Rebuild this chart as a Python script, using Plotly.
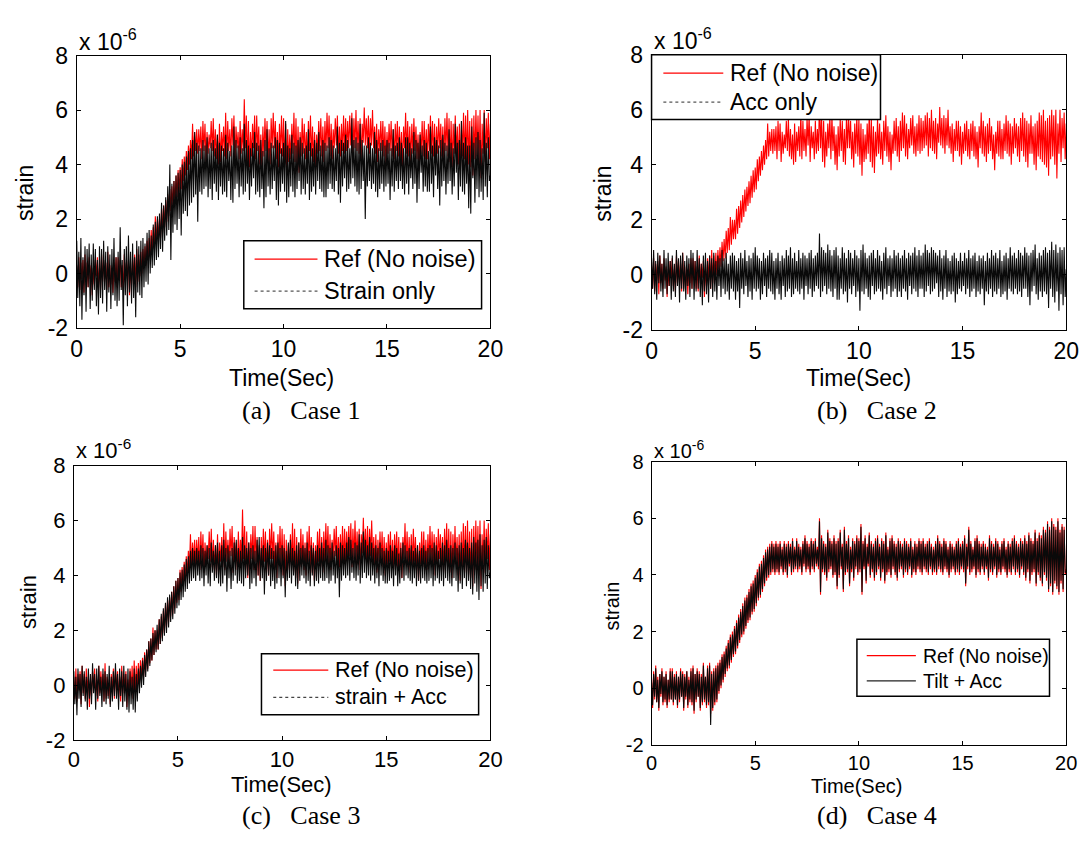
import plotly.graph_objects as go

# ---------------- data (micro-strain, read every 0.05 s from 0 to 20 s; one row = 1 s) ----------------
time_s = [round(i * 0.05, 2) for i in range(401)]

ref_no_noise = [
    0.3, -0.5, 0.6, -0.6, 0.4, -0.2, 0.5, -0.7, 0.7, -0.3, 0.4, -0.5, 0.6, -0.2, 0.3, -0.8, 0.2, -0.4, 0.5, -0.1,
    0.6, -0.4, 0.2, -0.6, 0.7, -0.3, 0.5, -0.2, 0.4, -0.6, 0.8, -0.5, 0.3, -0.4, 0.2, -0.7, 0.4, -0.3, 0.6, -0.5,
    0.6, -0.2, 0.5, -0.5, 0.3, -0.6, 0.7, -0.3, 0.4, -0.1, 0.5, -0.8, 0.2, -0.4, 0.6, -0.2, 0.7, -0.5, 0.9, -0.3,
    0.7, -0.1, 0.8, 0.0, 0.9, 0.2, 1.0, 0.3, 1.2, 0.5, 1.3, 0.6, 1.6, 0.8, 1.7, 0.9, 2.1, 1.1, 2.0, 1.3,
    2.0, 1.3, 2.4, 1.5, 2.5, 1.7, 2.7, 1.9, 2.9, 2.1, 3.1, 2.3, 3.2, 2.5, 3.4, 2.6, 3.6, 2.8, 3.8, 3.0,
    3.9, 3.1, 4.2, 3.4, 4.3, 3.6, 4.5, 3.8, 4.7, 4.0, 4.9, 4.2, 5.5, 4.3, 5.2, 4.5, 5.3, 4.4, 5.3, 4.5,
    5.4, 4.2, 5.6, 4.5, 5.5, 4.1, 5.2, 4.4, 5.1, 4.6, 5.6, 4.5, 5.7, 4.3, 5.3, 4.2, 5.1, 4.0, 5.5, 4.1,
    5.2, 4.5, 5.4, 4.3, 5.9, 4.2, 5.6, 4.5, 5.3, 4.3, 5.7, 4.7, 5.8, 4.1, 5.4, 4.6, 5.2, 4.2, 5.6, 4.4,
    5.3, 4.5, 6.4, 4.6, 5.8, 4.1, 5.6, 3.9, 5.2, 4.3, 5.5, 4.6, 5.8, 4.2, 5.8, 4.5, 5.4, 4.0, 5.1, 3.8,
    5.4, 4.3, 5.7, 4.5, 5.6, 4.1, 5.3, 4.0, 5.7, 4.6, 5.9, 4.6, 5.6, 4.2, 5.2, 3.9, 5.5, 4.4, 5.8, 4.3,
    5.7, 4.0, 5.5, 3.6, 5.3, 4.1, 5.1, 4.2, 5.5, 4.4, 5.9, 4.1, 5.7, 3.9, 5.4, 3.7, 5.2, 4.3, 5.7, 4.4,
    5.5, 4.2, 5.2, 4.0, 5.6, 4.5, 5.8, 4.3, 5.4, 4.1, 5.2, 3.8, 5.1, 4.4, 5.6, 4.5, 5.7, 4.3, 5.4, 4.1,
    5.6, 4.5, 5.9, 4.6, 5.8, 4.3, 5.5, 4.2, 5.3, 4.6, 5.7, 4.7, 5.8, 4.4, 5.4, 4.3, 5.5, 4.5, 5.8, 4.4,
    5.7, 4.5, 5.6, 4.6, 5.8, 4.7, 5.9, 4.3, 5.7, 4.6, 6.0, 4.5, 5.6, 4.4, 5.7, 4.2, 5.5, 4.8, 6.1, 4.7,
    5.7, 4.6, 5.8, 4.4, 5.7, 4.7, 6.0, 4.6, 5.4, 4.4, 5.5, 4.1, 5.3, 4.5, 5.6, 4.5, 5.6, 4.3, 5.4, 4.0,
    5.2, 4.4, 5.5, 4.5, 5.6, 4.3, 5.3, 4.2, 5.5, 4.5, 5.6, 4.3, 5.4, 4.2, 5.2, 3.9, 5.4, 4.6, 5.9, 4.4,
    5.6, 4.3, 5.4, 4.1, 5.5, 4.4, 5.7, 4.5, 5.4, 4.2, 5.1, 3.8, 5.2, 4.4, 5.6, 4.3, 5.6, 4.2, 5.3, 4.2,
    5.5, 4.5, 5.8, 4.4, 5.6, 4.3, 5.5, 4.0, 5.4, 4.4, 5.7, 4.6, 5.5, 4.3, 5.4, 4.1, 5.7, 4.5, 5.9, 4.3,
    5.7, 4.1, 5.6, 3.9, 5.5, 4.4, 5.8, 4.4, 5.4, 4.0, 5.5, 3.8, 5.6, 4.3, 5.9, 4.2, 5.8, 4.1, 6.0, 4.0,
    5.6, 3.9, 5.7, 3.6, 5.8, 4.2, 6.0, 4.3, 5.8, 4.0, 6.0, 3.5, 5.5, 4.4, 6.0, 4.1, 5.7, 4.6, 5.9, 4.2,
    5.5,
]

strain_only = [
    1.2, -0.9, 0.8, -1.2, 1.3, -1.7, 0.6, -0.8, 1.0, -1.4, 0.9, -0.5, 1.1, -1.3, 0.7, -1.0, 1.1, -0.6, 0.9, -1.2,
    0.5, -1.5, 1.0, -0.9, 0.9, -1.1, 1.2, -0.6, 0.8, -1.4, 1.0, -0.7, 0.7, -1.3, 0.9, -0.8, 1.3, -1.0, 0.6, -1.2,
    0.8, -1.0, 1.7, -0.6, 0.5, -1.9, 0.9, -0.8, 1.0, -1.2, 1.4, -0.7, 0.8, -1.1, 1.1, -0.9, 0.6, -1.6, 1.2, -0.7,
    1.0, -0.8, 1.2, -0.9, 1.3, -0.5, 1.1, -0.3, 1.5, -0.4, 1.6, 0.0, 1.4, 0.2, 1.8, 0.3, 1.9, 0.5, 2.1, 0.6,
    2.2, 0.9, 2.6, 0.8, 2.5, 1.2, 2.8, 1.4, 3.2, 1.6, 4.0, 0.5, 3.3, 1.5, 3.4, 1.8, 3.6, 1.6, 3.7, 2.0,
    3.8, 1.4, 4.0, 2.2, 4.1, 2.3, 4.3, 2.1, 4.5, 2.5, 4.6, 2.6, 4.9, 2.8, 5.2, 2.9, 4.8, 1.9, 4.7, 3.0,
    4.6, 2.9, 4.9, 3.1, 4.7, 3.2, 5.0, 2.8, 4.6, 3.1, 4.8, 2.7, 4.9, 3.3, 4.6, 3.0, 5.1, 2.7, 4.8, 3.2,
    4.7, 2.9, 4.6, 3.0, 5.1, 2.8, 4.8, 3.4, 4.5, 2.7, 4.7, 2.6, 5.4, 3.1, 4.9, 3.3, 4.7, 2.8, 5.0, 3.2,
    4.6, 2.9, 5.5, 3.0, 4.9, 3.3, 4.7, 2.7, 4.6, 3.2, 4.8, 3.5, 5.2, 2.9, 4.8, 3.0, 4.7, 2.8, 4.9, 3.1,
    4.5, 2.4, 4.9, 2.8, 5.3, 3.2, 4.6, 2.9, 4.8, 3.1, 4.7, 3.4, 5.0, 2.7, 4.9, 2.5, 4.8, 3.0, 4.6, 3.3,
    4.8, 3.0, 5.6, 2.6, 4.7, 2.8, 4.6, 3.2, 5.1, 3.0, 4.8, 2.8, 4.7, 3.1, 4.9, 3.4, 5.0, 2.9, 4.8, 3.1,
    4.6, 2.9, 4.7, 3.3, 5.3, 2.7, 4.8, 3.0, 4.6, 3.2, 4.9, 2.9, 4.8, 3.4, 5.2, 3.1, 4.7, 3.0, 4.9, 2.8,
    4.8, 2.8, 4.7, 3.1, 5.0, 3.3, 4.9, 3.1, 4.7, 3.0, 4.6, 3.4, 5.4, 2.9, 4.8, 2.6, 4.9, 3.2, 4.8, 3.5,
    5.1, 3.0, 4.9, 3.1, 4.6, 3.3, 5.7, 3.5, 4.9, 3.2, 5.0, 3.0, 4.8, 2.9, 5.5, 3.1, 4.9, 3.4, 4.7, 2.0,
    4.7, 3.2, 5.0, 3.4, 4.8, 3.1, 4.6, 3.3, 5.2, 3.0, 4.9, 2.8, 4.6, 3.1, 4.8, 3.3, 4.9, 3.0, 4.7, 3.2,
    4.9, 3.3, 4.8, 2.7, 4.6, 3.2, 5.3, 3.0, 4.7, 3.4, 4.8, 3.1, 5.0, 3.4, 4.8, 3.1, 4.6, 2.9, 5.0, 3.3,
    5.0, 2.9, 4.8, 3.5, 4.6, 3.1, 5.2, 3.3, 4.9, 2.6, 4.8, 3.1, 5.1, 3.7, 4.7, 3.0, 4.9, 3.2, 4.8, 3.0,
    4.5, 3.0, 5.4, 3.3, 4.7, 2.8, 5.0, 3.6, 4.9, 3.1, 4.7, 2.5, 4.9, 3.2, 5.1, 3.4, 4.8, 2.9, 4.7, 3.3,
    5.3, 3.4, 4.8, 2.9, 4.6, 3.2, 5.5, 3.7, 4.8, 2.7, 4.9, 3.2, 5.6, 3.0, 4.8, 2.9, 5.0, 3.3, 4.7, 2.4,
    4.7, 2.2, 5.4, 3.5, 4.8, 2.6, 5.0, 3.1, 5.2, 2.8, 4.9, 3.0, 4.6, 2.7, 5.9, 3.2, 4.8, 2.8, 5.0, 3.4,
    3.6,
]

acc_only = [
    0.6, -0.5, 0.9, -0.7, 0.5, -0.9, 0.8, -0.3, 0.7, -0.6, 0.4, -0.8, 0.9, -0.5, 0.6, -0.7, 0.8, -0.4, 0.5, -0.9,
    0.7, -0.6, 0.4, -0.8, 0.9, -0.4, 0.6, -1.0, 0.7, -0.5, 0.8, -0.6, 0.5, -0.9, 0.7, -0.4, 0.6, -0.8, 0.9, -0.5,
    0.8, -0.9, 0.5, -0.6, 0.9, -0.5, 0.6, -0.8, 0.4, -1.1, 0.7, -0.6, 0.8, -0.7, 0.5, -1.0, 0.7, -0.5, 0.6, -0.8,
    0.8, -0.6, 0.5, -0.9, 0.7, -0.4, 0.6, -0.8, 0.9, -0.5, 0.6, -0.7, 0.8, -0.6, 0.4, -0.9, 0.7, -0.5, 0.8, -0.6,
    0.7, -0.9, 0.5, -0.6, 0.6, -1.2, 0.8, -0.5, 0.6, -0.7, 0.9, -0.4, 0.5, -0.8, 0.7, -0.6, 0.6, -0.9, 0.8, -0.5,
    1.0, -0.6, 0.7, -0.5, 0.6, -0.9, 0.5, -0.7, 0.8, -0.4, 0.6, -0.8, 0.7, -0.5, 0.9, -0.6, 0.8, -0.7, 0.5, -0.9,
    0.6, -0.5, 0.8, -0.7, 0.5, -0.9, 0.7, -0.4, 0.6, -0.8, 0.9, -0.6, 0.7, -0.5, 1.0, -0.8, 0.6, -0.7, 0.8, -0.5,
    0.5, -0.6, 0.9, -0.7, 0.6, -0.5, 0.8, -0.9, 0.7, -0.4, 0.6, -0.7, 0.8, -0.5, 0.9, -0.8, 0.6, -0.6, 0.7, -0.4,
    0.8, -0.5, 1.5, -0.8, 1.0, -0.6, 0.9, -0.4, 0.8, -0.7, 1.1, -0.5, 0.9, -0.6, 0.7, -0.8, 0.9, -0.5, 1.0, -0.9,
    0.7, -0.9, 0.6, -0.5, 1.0, -0.7, 0.8, -0.6, 0.6, -1.0, 0.9, -0.5, 0.8, -0.7, 0.6, -0.4, 0.9, -0.8, 0.7, -0.6,
    0.6, -1.3, 0.9, -0.6, 1.1, -0.7, 0.8, -0.5, 0.6, -0.8, 0.7, -0.9, 0.8, -0.4, 0.9, -0.7, 0.6, -0.6, 0.9, -0.5,
    0.7, -0.6, 0.5, -0.9, 0.8, -0.5, 1.0, -0.7, 0.6, -0.4, 0.7, -0.8, 0.6, -0.6, 0.9, -0.5, 0.7, -0.8, 0.8, -0.6,
    0.6, -0.8, 0.7, -0.5, 0.9, -0.6, 0.6, -0.9, 0.8, -0.4, 0.7, -0.7, 0.8, -0.5, 1.0, -0.6, 0.7, -0.8, 0.9, -0.5,
    0.7, -0.5, 0.8, -0.8, 1.1, -0.6, 0.9, -0.4, 0.8, -0.7, 1.0, -0.6, 0.9, -0.5, 0.8, -0.3, 0.7, -0.8, 0.9, -0.6,
    0.6, -0.9, 0.7, -0.5, 0.9, -0.8, 0.6, -0.6, 0.5, -0.7, 0.7, -0.6, 0.8, -1.0, 0.6, -0.7, 0.5, -0.5, 0.8, -0.6,
    0.5, -0.4, 0.8, -0.7, 0.6, -0.5, 0.9, -0.8, 0.6, -0.6, 0.7, -0.5, 0.8, -0.8, 0.5, -0.6, 0.7, -0.7, 0.6, -0.5,
    0.7, -1.1, 0.5, -0.6, 0.8, -0.7, 0.6, -0.5, 0.9, -0.8, 0.7, -0.6, 0.8, -0.7, 0.6, -0.5, 0.9, -0.8, 0.5, -0.7,
    0.7, -0.6, 0.8, -0.9, 0.6, -0.5, 1.0, -0.6, 0.7, -0.7, 0.8, -0.5, 0.6, -0.7, 0.9, -0.6, 0.8, -0.8, 0.7, -0.5,
    1.0, -0.5, 0.8, -0.8, 0.7, -1.1, 0.8, -0.6, 0.9, -0.4, 1.1, -0.7, 0.6, -0.9, 0.8, -0.6, 0.7, -0.8, 0.9, -0.6,
    1.0, -0.7, 0.8, -1.2, 0.9, -0.5, 1.2, -0.8, 0.9, -1.0, 1.1, -0.6, 0.8, -1.3, 1.0, -0.7, 0.9, -1.1, 1.0, -0.8,
    0.2,
]

strain_plus_acc = [
    0.5, -0.7, 0.3, -1.1, 0.6, -0.5, 0.4, -0.8, 0.7, -0.4, 0.5, -0.6, 0.3, -0.9, 0.6, -0.5, 0.4, -0.7, 0.8, -0.3,
    0.4, -0.9, 0.6, -0.5, 0.7, -0.4, 0.3, -0.8, 0.6, -0.6, 0.5, -0.7, 0.4, -0.5, 0.7, -0.8, 0.3, -0.6, 0.5, -0.4,
    0.8, -0.5, 0.4, -0.9, 0.6, -0.4, 0.5, -0.8, 0.7, -0.6, 0.4, -0.9, 0.6, -1.0, 0.5, -0.7, 0.3, -0.9, 0.6, -1.0,
    0.4, -0.6, 0.6, -0.3, 0.7, -0.1, 0.9, 0.0, 1.1, 0.3, 1.3, 0.5, 1.6, 0.7, 1.7, 0.9, 1.9, 1.1, 2.0, 1.2,
    2.2, 1.3, 2.4, 1.5, 2.6, 1.6, 2.8, 1.8, 3.0, 1.9, 3.2, 2.1, 3.3, 2.3, 3.4, 2.4, 3.6, 2.6, 3.8, 2.8,
    3.9, 2.9, 4.1, 3.1, 4.2, 3.2, 4.4, 3.4, 4.6, 3.5, 4.7, 3.7, 4.9, 3.8, 5.0, 3.9, 4.9, 3.8, 5.0, 4.0,
    4.9, 3.8, 5.1, 3.9, 5.0, 3.6, 4.9, 4.0, 5.1, 3.7, 5.0, 3.6, 5.2, 4.1, 4.9, 3.8, 5.1, 3.9, 5.2, 3.7,
    4.9, 3.6, 5.1, 3.7, 5.3, 4.0, 5.0, 3.4, 5.1, 3.9, 4.9, 3.5, 5.0, 3.8, 5.2, 4.0, 5.3, 3.7, 5.0, 3.8,
    4.9, 3.7, 5.4, 3.6, 5.1, 3.9, 5.0, 4.0, 5.2, 3.5, 5.0, 3.7, 5.1, 3.9, 4.9, 3.6, 5.3, 4.0, 5.4, 3.8,
    5.0, 3.9, 5.1, 3.3, 5.0, 3.8, 5.2, 4.0, 5.1, 3.6, 5.0, 3.8, 4.9, 3.5, 5.1, 3.7, 5.2, 3.9, 5.0, 3.6,
    5.1, 3.9, 5.0, 3.2, 4.9, 3.8, 5.2, 3.9, 5.3, 3.7, 5.0, 4.0, 4.9, 3.6, 5.1, 3.5, 5.2, 3.8, 5.0, 4.0,
    5.1, 3.9, 5.0, 3.7, 5.2, 3.8, 4.9, 3.6, 5.1, 4.0, 5.0, 3.6, 4.9, 3.8, 5.1, 3.7, 5.0, 3.9, 5.2, 3.8,
    5.0, 3.8, 5.3, 3.9, 5.1, 3.7, 5.0, 3.8, 5.2, 4.0, 4.9, 3.7, 5.1, 3.9, 5.0, 3.2, 5.2, 3.8, 5.1, 4.0,
    5.0, 3.9, 5.2, 4.0, 5.4, 3.8, 5.3, 4.1, 5.0, 3.9, 5.2, 3.8, 5.1, 4.0, 5.5, 3.7, 5.2, 3.9, 5.6, 4.1,
    5.3, 3.9, 5.1, 4.0, 5.4, 3.8, 5.2, 4.0, 5.0, 3.7, 5.1, 3.9, 5.0, 3.6, 5.2, 4.0, 5.0, 3.8, 4.9, 3.7,
    5.0, 3.7, 4.9, 3.8, 5.1, 3.9, 4.9, 3.6, 5.1, 4.0, 5.0, 3.6, 4.8, 3.7, 5.0, 3.9, 5.2, 3.8, 5.1, 4.0,
    4.9, 3.9, 5.0, 3.8, 5.1, 3.7, 4.9, 3.9, 5.0, 3.6, 5.1, 3.8, 4.9, 3.7, 5.0, 3.9, 5.1, 3.8, 4.9, 3.7,
    5.0, 3.8, 5.1, 3.9, 5.0, 3.6, 5.2, 3.8, 5.1, 3.9, 4.9, 3.7, 5.0, 3.8, 5.2, 3.6, 5.1, 3.9, 5.3, 3.8,
    5.0, 3.7, 5.1, 3.6, 5.0, 3.9, 5.2, 3.8, 5.0, 3.4, 5.1, 3.7, 5.2, 3.5, 5.0, 3.9, 5.3, 3.6, 5.2, 3.8,
    5.0, 3.5, 5.2, 3.3, 5.4, 3.7, 5.2, 3.4, 5.3, 3.1, 5.5, 3.6, 5.1, 3.4, 5.3, 3.7, 5.4, 3.5, 5.1, 3.9,
    4.1,
]

ref_no_noise_case4 = [
    0.3, -0.7, 0.6, -0.4, 0.8, -0.5, 0.4, -0.8, 0.5, -0.3, 0.7, -0.6, 0.4, -0.5, 0.6, -0.7, 0.3, -0.5, 0.7, -0.4,
    0.7, -0.6, 0.5, -0.4, 0.6, -0.7, 0.4, -0.5, 0.7, -0.3, 0.6, -0.8, 0.5, -0.4, 0.6, -0.7, 0.4, -0.5, 0.7, -0.6,
    0.8, -0.9, 0.5, -0.5, 0.7, -0.3, 0.6, -0.8, 0.5, -0.6, 0.9, -0.5, 0.4, -0.7, 0.8, -0.6, 0.9, -0.9, 0.6, -0.8,
    0.7, -0.6, 0.8, -0.5, 0.9, -0.2, 1.0, 0.0, 1.2, 0.2, 1.3, 0.4, 1.5, 0.6, 1.7, 0.7, 1.9, 0.9, 2.0, 1.1,
    2.2, 1.2, 2.4, 1.4, 2.6, 1.6, 2.8, 1.8, 3.0, 1.9, 3.2, 2.1, 3.3, 2.3, 3.5, 2.4, 3.7, 2.6, 3.8, 2.7,
    4.0, 2.9, 4.2, 3.1, 4.4, 3.2, 4.5, 3.4, 4.7, 3.6, 4.9, 3.8, 5.0, 3.9, 5.1, 4.0, 5.2, 4.1, 5.1, 4.0,
    5.2, 4.1, 5.1, 4.0, 5.2, 4.2, 5.0, 4.0, 5.2, 4.1, 5.1, 3.9, 5.2, 4.3, 5.1, 4.0, 5.3, 4.1, 5.0, 4.2,
    5.3, 4.1, 5.1, 4.2, 5.0, 4.0, 5.2, 4.3, 5.4, 4.1, 5.2, 4.2, 5.1, 4.0, 5.3, 4.2, 5.2, 4.1, 5.3, 4.3,
    5.0, 4.2, 6.0, 3.3, 5.4, 4.1, 5.2, 4.0, 5.1, 3.8, 5.6, 4.1, 5.3, 4.2, 5.2, 3.9, 5.4, 4.0, 5.2, 3.5,
    5.3, 3.9, 5.6, 4.2, 5.1, 3.4, 5.7, 4.0, 5.2, 4.1, 5.4, 3.6, 5.0, 4.1, 5.3, 3.8, 5.2, 4.2, 5.4, 4.0,
    5.3, 4.1, 5.8, 3.3, 5.2, 4.2, 5.4, 3.7, 5.1, 4.3, 5.5, 3.9, 5.2, 4.1, 5.1, 3.8, 5.3, 4.0, 5.4, 4.2,
    5.1, 3.8, 5.3, 4.1, 5.2, 3.7, 5.5, 4.0, 5.0, 4.1, 5.3, 3.9, 5.4, 4.2, 5.2, 4.0, 5.1, 3.8, 5.3, 4.1,
    5.2, 4.2, 5.1, 3.9, 5.3, 4.1, 5.2, 4.0, 5.1, 4.2, 5.3, 3.9, 5.0, 4.1, 5.2, 4.0, 5.1, 4.2, 5.3, 4.1,
    5.2, 4.0, 5.3, 4.2, 5.1, 4.1, 5.2, 4.0, 5.3, 4.2, 5.1, 4.0, 5.0, 4.1, 5.2, 4.0, 5.4, 4.2, 5.2, 4.1,
    5.1, 4.0, 5.3, 4.2, 5.2, 4.1, 5.0, 3.9, 5.2, 4.1, 5.1, 4.2, 5.0, 4.0, 5.2, 4.1, 5.3, 4.0, 5.1, 4.2,
    5.2, 4.1, 5.4, 3.6, 5.1, 4.2, 5.7, 4.0, 5.2, 4.1, 5.0, 4.2, 5.3, 3.9, 5.4, 4.1, 5.2, 4.0, 5.1, 4.2,
    5.2, 4.0, 5.1, 4.2, 5.0, 3.8, 5.4, 4.1, 5.2, 4.0, 5.1, 4.2, 5.3, 3.9, 5.2, 4.1, 5.0, 4.0, 5.2, 4.2,
    5.3, 4.1, 5.0, 3.9, 5.2, 4.1, 5.1, 4.0, 5.3, 4.2, 5.4, 4.0, 5.2, 4.1, 5.1, 3.9, 5.3, 4.2, 5.2, 4.0,
    5.4, 3.8, 5.2, 4.1, 5.5, 3.7, 5.3, 4.0, 5.2, 4.1, 5.6, 3.6, 5.3, 4.0, 5.5, 3.8, 5.4, 3.6, 5.7, 4.0,
    5.6, 3.8, 5.9, 3.4, 5.7, 3.6, 6.0, 3.3, 5.8, 3.7, 5.7, 3.5, 6.0, 3.3, 5.6, 3.7, 5.8, 3.4, 5.7, 4.0,
    4.2,
]

tilt_plus_acc = [
    0.2, -0.6, 0.5, -0.3, 0.7, -0.5, 0.3, -0.7, 0.5, -0.2, 0.6, -0.5, 0.4, -0.4, 0.5, -0.6, 0.3, -0.4, 0.6, -0.4,
    0.6, -0.5, 0.4, -0.4, 0.5, -0.6, 0.4, -0.4, 0.6, -0.3, 0.5, -0.7, 0.4, -0.3, 0.6, -0.6, 0.3, -0.4, 0.6, -0.5,
    0.7, -0.8, 0.5, -0.4, 0.6, -0.3, 0.5, -0.7, 0.4, -0.5, 0.8, -0.4, 0.4, -0.6, 0.7, -0.5, 0.8, -1.3, 0.5, -0.7,
    0.6, -0.5, 0.7, -0.4, 0.8, -0.1, 0.9, 0.1, 1.1, 0.3, 1.2, 0.5, 1.4, 0.7, 1.6, 0.8, 1.8, 1.0, 1.9, 1.2,
    2.1, 1.3, 2.3, 1.5, 2.5, 1.7, 2.7, 1.9, 2.9, 2.0, 3.1, 2.2, 3.2, 2.4, 3.4, 2.5, 3.6, 2.7, 3.7, 2.8,
    3.9, 3.0, 4.1, 3.2, 4.3, 3.3, 4.4, 3.5, 4.6, 3.7, 4.8, 3.9, 4.9, 4.0, 5.0, 4.1, 5.1, 4.2, 5.0, 4.1,
    5.1, 4.2, 5.0, 4.1, 5.1, 4.3, 4.9, 4.1, 5.1, 4.2, 5.0, 4.0, 5.1, 4.4, 5.0, 4.1, 5.2, 4.2, 4.9, 4.3,
    5.2, 4.2, 5.0, 4.3, 4.9, 4.1, 5.1, 4.4, 5.3, 4.2, 5.1, 4.3, 5.0, 4.1, 5.2, 4.3, 5.1, 4.2, 5.2, 4.4,
    4.9, 4.3, 5.9, 3.4, 5.3, 4.2, 5.1, 4.1, 5.0, 3.9, 5.5, 4.2, 5.2, 4.3, 5.1, 4.0, 5.3, 4.1, 5.1, 3.6,
    5.2, 4.0, 5.5, 4.3, 5.0, 3.5, 5.6, 4.1, 5.1, 4.2, 5.3, 3.7, 4.9, 4.2, 5.2, 3.9, 5.1, 4.3, 5.3, 4.1,
    5.2, 4.2, 5.7, 3.4, 5.1, 4.3, 5.3, 3.8, 5.0, 4.4, 5.4, 4.0, 5.1, 4.2, 5.0, 3.9, 5.2, 4.1, 5.3, 4.3,
    5.0, 3.9, 5.2, 4.2, 5.1, 3.8, 5.4, 4.1, 4.9, 4.2, 5.2, 4.0, 5.3, 4.3, 5.1, 4.1, 5.0, 3.9, 5.2, 4.2,
    5.1, 4.3, 5.0, 4.0, 5.2, 4.2, 5.1, 4.1, 5.0, 4.3, 5.2, 4.0, 4.9, 4.2, 5.1, 4.1, 5.0, 4.3, 5.2, 4.2,
    5.1, 4.1, 5.2, 4.3, 5.0, 4.2, 5.1, 4.1, 5.2, 4.3, 5.0, 4.1, 4.9, 4.2, 5.1, 4.1, 5.3, 4.3, 5.1, 4.2,
    5.0, 4.1, 5.2, 4.3, 5.1, 4.2, 4.9, 4.0, 5.1, 4.2, 5.0, 4.3, 4.9, 4.1, 5.1, 4.2, 5.2, 4.1, 5.0, 4.3,
    5.1, 4.2, 5.3, 3.7, 5.0, 4.3, 5.6, 4.1, 5.1, 4.2, 4.9, 4.3, 5.2, 4.0, 5.3, 4.2, 5.1, 4.1, 5.0, 4.3,
    5.1, 4.1, 5.0, 4.3, 4.9, 3.9, 5.3, 4.2, 5.1, 4.1, 5.0, 4.3, 5.2, 4.0, 5.1, 4.2, 4.9, 4.1, 5.1, 4.3,
    5.2, 4.2, 4.9, 4.0, 5.1, 4.2, 5.0, 4.1, 5.2, 4.3, 5.3, 4.1, 5.1, 4.2, 5.0, 4.0, 5.2, 4.3, 5.1, 4.1,
    5.3, 3.9, 5.1, 4.2, 5.4, 3.8, 5.2, 4.1, 5.1, 4.2, 5.5, 3.7, 5.2, 4.1, 5.4, 3.9, 5.3, 3.7, 5.6, 4.1,
    5.5, 3.9, 5.8, 3.5, 5.6, 3.7, 5.9, 3.4, 5.7, 3.8, 5.6, 3.6, 5.9, 3.4, 5.5, 3.8, 5.7, 3.5, 5.6, 4.1,
    4.1,
]

x_ticks = [0, 5, 10, 15, 20]
x_tick_text = ["0", "5", "10", "15", "20"]
y_ticks = [-2, 0, 2, 4, 6, 8]
y_tick_text = ["-2", "0", "2", "4", "6", "8"]
legend_ref = "Ref (No noise)"
captions = ["(a)&nbsp;&nbsp; Case 1", "(b)&nbsp;&nbsp; Case 2", "(c)&nbsp;&nbsp; Case 3", "(d)&nbsp;&nbsp; Case 4"]
second_names = ["Strain only", "Acc only", "strain + Acc", "Tilt + Acc"]

for name, arr in (("ref", ref_no_noise), ("strain", strain_only), ("acc", acc_only),
                  ("strain_acc", strain_plus_acc), ("ref4", ref_no_noise_case4), ("tilt", tilt_plus_acc)):
    assert len(arr) == len(time_s), (name, len(arr))

# ---------------- layout geometry (pixels) ----------------
W, H = 1091, 846
def fx(px):
    return px / W
def fy(py):
    return 1 - py / H

SANS = "Liberation Sans"
SERIF = "Liberation Serif"

panels = [
    dict(ax=(72, 493, 44, 325), fs=23, red=ref_no_noise, black=strain_only,
         exp=(72, 28), strain=(20, 186), time=(280, 377), cap=(300, 410),
         leg=(242, 484, 235, 305), leg_line=(253, 317), leg_y=(254, 287), leg_tx=322, leg_fs=23.5,
         black_dash="dot", black_leg_color="#555555"),
    dict(ax=(657, 1079, 43, 327), fs=23, red=ref_no_noise, black=acc_only,
         exp=(657, 27), strain=(608, 186), time=(868, 377), cap=(886, 410),
         leg=(657, 890, 43, 110), leg_line=(669, 730), leg_y=(62, 92), leg_tx=735, leg_fs=23,
         black_dash="dot", black_leg_color="#555555"),
    dict(ax=(69, 493, 467, 750), fs=22, red=ref_no_noise, black=strain_plus_acc,
         exp=(69, 450), strain=(23, 608), time=(280, 796), cap=(300, 828),
         leg=(260, 481, 661, 724), leg_line=(272, 328), leg_y=(678, 706), leg_tx=333, leg_fs=21.5,
         black_dash="dot", black_leg_color="#444444"),
    dict(ax=(657, 1079, 463, 755), fs=20, red=ref_no_noise_case4, black=tilt_plus_acc,
         exp=(657, 450), strain=(617, 612), time=(866, 797), cap=(886, 828),
         leg=(866, 1062, 646, 705), leg_line=(876, 926), leg_y=(663, 689), leg_tx=931, leg_fs=19.5,
         black_dash="solid", black_leg_color="#222222"),
]

fig = go.Figure()
shapes = []
annotations = []
layout_axes = {}

for i, p in enumerate(panels, start=1):
    xs = "" if i == 1 else str(i)
    x0, x1, y0, y1 = p["ax"]
    fig.add_trace(go.Scatter(x=time_s, y=p["red"], mode="lines", name=legend_ref,
                             line=dict(color="#ff0000", width=1.1), showlegend=False,
                             xaxis="x" + xs, yaxis="y" + xs))
    fig.add_trace(go.Scatter(x=time_s, y=p["black"], mode="lines", name=second_names[i - 1],
                             line=dict(color="#0a0a0a", width=1.1), showlegend=False,
                             xaxis="x" + xs, yaxis="y" + xs))
    common = dict(showgrid=False, zeroline=False, showline=True, linecolor="black", linewidth=1,
                  mirror="allticks", ticks="inside", ticklen=4, tickcolor="black", tickwidth=1,
                  tickfont=dict(family=SANS, size=p["fs"], color="black"))
    layout_axes["xaxis" + xs] = dict(domain=[fx(x0), fx(x1)], anchor="y" + xs, range=[0, 20],
                                     tickmode="array", tickvals=x_ticks, ticktext=x_tick_text,
                                     ticklabelstandoff=0, **common)
    layout_axes["yaxis" + xs] = dict(domain=[fy(y1), fy(y0)], anchor="x" + xs, range=[-2, 8],
                                     tickmode="array", tickvals=y_ticks, ticktext=y_tick_text,
                                     ticklabelstandoff=3, **common)

    annotations.append(dict(xref="paper", yref="paper", x=fx(p["exp"][0]), y=fy(p["exp"][1]),
                            xanchor="left", yanchor="middle", showarrow=False,
                            text="x 10<sup>-6</sup>", font=dict(family=SANS, size=p["fs"], color="black")))
    annotations.append(dict(xref="paper", yref="paper", x=fx(p["strain"][0]), y=fy(p["strain"][1]),
                            xanchor="center", yanchor="middle", showarrow=False, textangle=-90,
                            text="strain", font=dict(family=SANS, size=p["fs"], color="black")))
    annotations.append(dict(xref="paper", yref="paper", x=fx(p["time"][0]), y=fy(p["time"][1]),
                            xanchor="center", yanchor="middle", showarrow=False,
                            text="Time(Sec)", font=dict(family=SANS, size=p["fs"], color="black")))
    annotations.append(dict(xref="paper", yref="paper", x=fx(p["cap"][0]), y=fy(p["cap"][1]),
                            xanchor="center", yanchor="middle", showarrow=False,
                            text=captions[i - 1], font=dict(family=SERIF, size=26, color="black")))

    lx0, lx1, ly0, ly1 = p["leg"]
    shapes.append(dict(type="rect", xref="paper", yref="paper", x0=fx(lx0), x1=fx(lx1),
                       y0=fy(ly1), y1=fy(ly0), line=dict(color="black", width=1.5),
                       fillcolor="white", layer="above"))
    la, lb = p["leg_line"]
    shapes.append(dict(type="line", xref="paper", yref="paper", x0=fx(la), x1=fx(lb),
                       y0=fy(p["leg_y"][0]), y1=fy(p["leg_y"][0]),
                       line=dict(color="#ff0000", width=1.2), layer="above"))
    shapes.append(dict(type="line", xref="paper", yref="paper", x0=fx(la), x1=fx(lb),
                       y0=fy(p["leg_y"][1]), y1=fy(p["leg_y"][1]),
                       line=dict(color=p["black_leg_color"], width=1.2, dash=p["black_dash"]), layer="above"))
    annotations.append(dict(xref="paper", yref="paper", x=fx(p["leg_tx"]), y=fy(p["leg_y"][0]),
                            xanchor="left", yanchor="middle", showarrow=False, text=legend_ref,
                            font=dict(family=SANS, size=p["leg_fs"], color="black")))
    annotations.append(dict(xref="paper", yref="paper", x=fx(p["leg_tx"]), y=fy(p["leg_y"][1]),
                            xanchor="left", yanchor="middle", showarrow=False, text=second_names[i - 1],
                            font=dict(family=SANS, size=p["leg_fs"], color="black")))

fig.update_layout(width=W, height=H, autosize=False,
                  margin=dict(l=0, r=0, t=0, b=0),
                  paper_bgcolor="white", plot_bgcolor="white",
                  shapes=shapes, annotations=annotations, **layout_axes)

fig.write_html("out.html")
